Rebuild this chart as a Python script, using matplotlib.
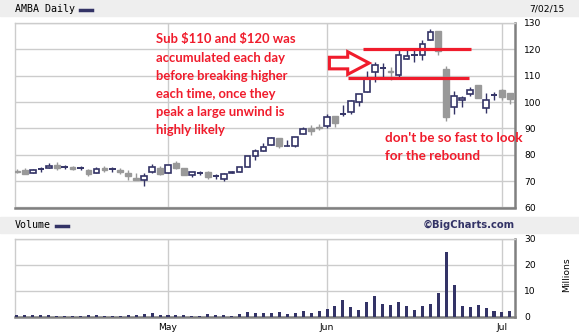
import matplotlib
matplotlib.use("Agg")
import matplotlib.pyplot as plt
import numpy as np
from matplotlib.lines import Line2D
from matplotlib.patches import Polygon, Rectangle

# AMBA daily candles, trading days from early April to 2 July 2015
opens = [73.9, 74.1, 73.1, 74.6, 74.9, 76.3, 75.3, 75.5, 74.8, 74.1,
         73.1, 75.1, 74.6, 74.4, 73.2, 71.3, 70.3, 73.6, 75.1, 73.1,
         76.7, 75.1, 72.3, 73.2, 73.6, 71.8, 70.8, 72.9, 73.3, 75.4,
         79.7, 81.3, 83.6, 86.2, 83.2, 83.3, 88.0, 90.3, 90.5, 90.8,
         94.9, 95.3, 96.1, 99.9, 103.7, 111.3, 112.9, 111.7, 110.4, 116.3,
         118.0, 118.0, 123.4, 127.0, 112.5, 98.1, 100.6, 103.2, 106.6, 97.8,
         102.6, 104.4, 103.4]
highs = [74.5, 74.9, 74.6, 75.4, 76.9, 77.2, 76.1, 75.9, 75.9, 74.6,
         75.4, 75.6, 75.4, 74.9, 74.1, 73.1, 73.1, 76.4, 75.9, 76.2,
         77.7, 75.1, 73.3, 74.0, 73.9, 72.8, 73.1, 73.9, 75.4, 79.7,
         82.1, 84.4, 86.9, 86.2, 85.6, 86.9, 90.5, 91.3, 91.6, 95.6,
         94.9, 99.0, 100.9, 103.2, 111.6, 115.1, 114.8, 113.3, 119.9, 119.6,
         119.9, 123.4, 127.7, 127.0, 113.5, 104.3, 102.4, 105.8, 106.6, 103.4,
         103.9, 105.1, 103.4]
lows = [73.2, 72.8, 73.1, 73.4, 74.9, 74.4, 74.6, 74.2, 74.2, 71.8,
        73.1, 73.4, 73.4, 72.8, 70.3, 70.3, 68.0, 72.9, 72.3, 73.1,
        74.6, 72.3, 71.5, 72.5, 71.0, 70.8, 70.0, 72.9, 73.3, 75.4,
        78.2, 81.3, 83.6, 82.6, 83.2, 82.8, 88.0, 87.4, 89.3, 90.3,
        90.5, 94.6, 95.6, 98.4, 103.7, 107.8, 109.7, 108.2, 109.5, 116.3,
        115.3, 115.8, 123.4, 118.0, 92.7, 95.6, 98.1, 102.2, 101.5, 95.9,
        100.6, 100.9, 99.4]
closes = [73.6, 72.8, 74.4, 74.6, 75.9, 74.9, 75.3, 74.5, 74.8, 72.7,
          74.6, 74.1, 74.6, 73.3, 71.8, 70.3, 72.1, 75.4, 72.8, 76.2,
          75.1, 72.3, 73.3, 73.2, 71.5, 71.8, 72.6, 73.3, 75.4, 79.7,
          81.3, 83.1, 86.2, 83.3, 83.4, 86.9, 89.7, 89.0, 90.3, 94.4,
          92.1, 95.3, 100.3, 103.2, 108.7, 114.2, 112.9, 111.5, 118.0, 117.3,
          118.0, 122.2, 126.5, 119.2, 94.5, 102.3, 101.6, 104.6, 101.5, 100.9,
          102.6, 101.9, 101.1]
volume_m = [0.65, 0.65, 0.65, 0.65, 0.65, 0.3, 0.3, 0.3, 0.3, 0.65,
            0.65, 0.3, 0.3, 0.3, 0.65, 0.65, 1.0, 1.5, 0.65, 0.65,
            0.65, 0.65, 0.3, 0.3, 1.0, 0.65, 0.65, 0.3, 1.0, 2.0,
            1.5, 1.5, 1.5, 2.0, 1.3, 1.6, 2.3, 1.6, 2.3, 3.1,
            4.2, 6.5, 3.8, 2.7, 5.7, 8.1, 4.9, 4.5, 5.7, 4.2,
            2.7, 4.2, 4.9, 9.2, 24.9, 12.3, 4.2, 3.8, 4.5, 3.4,
            2.3, 1.9, 2.3]

month_pos = [19, 39, 61]
month_labels = ["May", "Jun", "Jul"]
price_ticks = [60, 70, 80, 90, 100, 110, 120, 130]
vol_ticks = [0, 10, 20, 30]
resist_levels = [120.0, 109.0]

note_main = ("Sub \\$110 and \\$120 was\naccumulated each day\nbefore breaking higher\n"
             "each time, once they\npeak a large unwind is\nhighly likely")
note_side = "don't be so fast to look\nfor the rebound"

NAVY = "#333366"
GRAY = "#999999"
GRID = "#cccccc"
DARK = "#808080"
RED = "#f01c2c"

W, H = 579, 335
fig = plt.figure(figsize=(W / 100, H / 100), dpi=100)


def box(x0, y0, x1, y1):
    return [x0 / W, 1 - y1 / H, (x1 - x0) / W, (y1 - y0) / H]


def style_axes(ax, ylim, yticks):
    ax.set_xlim(-0.24, 62.64)
    ax.set_ylim(*ylim)
    ax.set_yticks(yticks)
    ax.set_xticks(month_pos)
    ax.yaxis.tick_right()
    ax.tick_params(length=0, labelsize=6.6, pad=6.5)
    ax.grid(True, color=GRID, lw=1)
    ax.set_axisbelow(True)
    for side in ("top", "left"):
        ax.spines[side].set_color(GRID)
        ax.spines[side].set_linewidth(1)
    for side in ("bottom", "right"):
        ax.spines[side].set_color(DARK)
        ax.spines[side].set_linewidth(1.8)


# header bands
for y0, y1 in [(0, 16), (217, 233)]:
    fig.add_artist(Rectangle((0, 1 - y1 / H), 1, (y1 - y0) / H,
                             transform=fig.transFigure, color="#eeeeee", zorder=0))
fig.text(15 / W, 1 - 9.5 / H, "AMBA Daily", family="DejaVu Sans Mono", size=7.2, va="center")
fig.add_artist(Line2D([80 / W, 92 / W], [1 - 10 / H] * 2, color=NAVY, lw=2.5))
fig.text(565 / W, 1 - 8.5 / H, "7/02/15", family="DejaVu Sans", size=6.6, va="center", ha="right")
fig.text(15 / W, 1 - 225 / H, "Volume", family="DejaVu Sans Mono", size=7.2, va="center")
fig.add_artist(Line2D([56 / W, 68 / W], [1 - 225.5 / H] * 2, color=NAVY, lw=2.5))
fig.text(515 / W, 1 - 225 / H, "\u00a9BigCharts.com", size=7.2, weight="bold",
         color=NAVY, va="center", ha="right")
fig.text(567 / W, 1 - 275 / H, "Millions", size=6.6, rotation=90, va="center", ha="center")

# price panel
ax = fig.add_axes(box(15, 23, 515, 207.5))
style_axes(ax, (60, 130), price_ticks)
ax.set_xticklabels([])

x = np.arange(len(opens))
o, h, l, c = (np.array(v) for v in (opens, highs, lows, closes))
up, down, flat = c > o, c < o, c == o
ax.vlines(x, l, h, colors=np.where(down, GRAY, NAVY), lw=1, zorder=2)
ax.bar(x[up], (c - o)[up], bottom=o[up], width=0.72, facecolor="white",
       edgecolor=NAVY, lw=1.2, zorder=3)
ax.bar(x[down], (o - c)[down], bottom=c[down], width=0.72, facecolor=GRAY,
       edgecolor=GRAY, lw=1, zorder=3)
ax.hlines(o[flat], x[flat] - 0.4, x[flat] + 0.4, colors=NAVY, lw=1.4, zorder=3)

# annotations
ax.hlines(resist_levels[0], 43.5, 57.1, color=RED, lw=2.3, zorder=4)
ax.hlines(resist_levels[1], 41.7, 56.9, color=RED, lw=2.3, zorder=4)
arrow = Polygon([(39.3, 117.0), (41.6, 117.0), (41.6, 119.1), (44.3, 114.8),
                 (41.6, 110.5), (41.6, 112.6), (39.3, 112.6)],
                closed=True, facecolor="white", edgecolor=RED, lw=2.2, zorder=4)
ax.add_patch(arrow)
fig.text(156 / W, 1 - 84.5 / H, note_main, color=RED, size=9.4, weight="bold",
         family="Lato", va="center", linespacing=1.6)
fig.text(385 / W, 1 - 147 / H, note_side, color=RED, size=9.7, weight="bold",
         family="Lato", va="center", linespacing=1.52)

# volume panel
ax2 = fig.add_axes(box(15, 238.5, 515, 317))
style_axes(ax2, (0, 30), vol_ticks)
ax2.set_xticklabels(month_labels)
ax2.tick_params(axis="x", pad=4)
ax2.bar(x, volume_m, width=0.38, color=NAVY, zorder=3)

fig.savefig("out.png", dpi=100)
